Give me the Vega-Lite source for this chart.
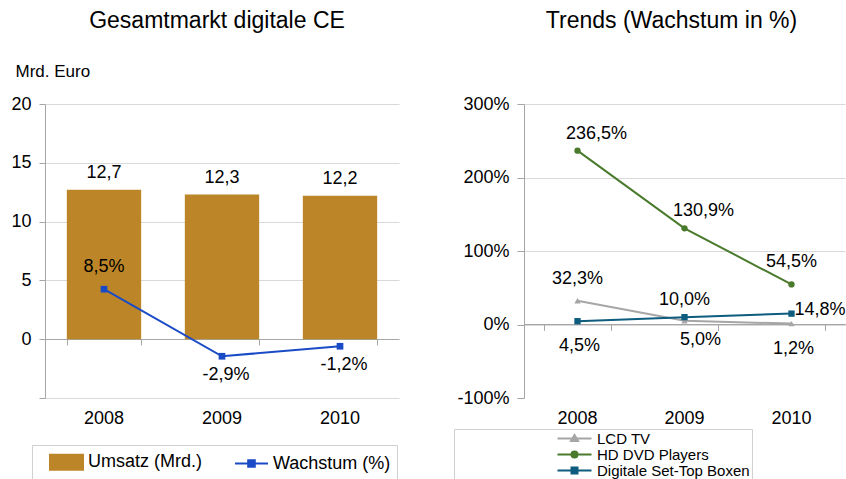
{
  "$schema": "https://vega.github.io/schema/vega-lite/v6.json",
  "padding": {"left": 10, "top": 10, "right": 0, "bottom": 0},
  "spacing": 125,
  "bounds": "flush",
  "config": {
    "font": "Liberation Sans",
    "view": {"stroke": null},
    "axis": {"labelColor": "#000000", "labelFont": "Liberation Sans", "domainColor": "#a6a6a6", "tickColor": "#a6a6a6", "gridColor": "#d9d9d9"},
    "text": {"font": "Liberation Sans", "fontSize": 18, "color": "#000000"},
    "legend": {"labelFont": "Liberation Sans", "labelColor": "#000000"}
  },
  "hconcat": [
    {
      "width": 354,
      "height": 294,
      "title": {"text": "Gesamtmarkt digitale CE", "frame": "group", "baseline": "alphabetic", "offset": 11, "fontSize": 23, "fontWeight": "normal", "font": "Liberation Sans", "anchor": "middle", "dx": -5, "color": "#000000"},
      "data": {"values": [
        {"year": "2008", "umsatz": 12.7, "wachstum": 8.5},
        {"year": "2009", "umsatz": 12.3, "wachstum": -2.9},
        {"year": "2010", "umsatz": 12.2, "wachstum": -1.2}
      ]},
      "transform": [
        {"calculate": "replace(format(datum.umsatz, '.1f'), '.', ',')", "as": "uLabel"},
        {"calculate": "(datum.wachstum < 0 ? '-' : '') + replace(format(abs(datum.wachstum), '.1f'), '.', ',') + '%'", "as": "wLabel"}
      ],
      "resolve": {"scale": {"y": "independent"}},
      "layer": [
        {
          "encoding": {
            "x": {"field": "year", "type": "nominal", "scale": {"paddingInner": 0.37, "paddingOuter": 0.185}, "axis": {"orient": "bottom", "title": null, "domain": false, "ticks": false, "labelAngle": 0, "labelFontSize": 18, "labelPadding": 11}},
            "y": {"field": "umsatz", "type": "quantitative", "scale": {"domain": [-5, 20], "nice": false},
              "axis": {"values": [-5, 0, 5, 10, 15, 20], "title": "Mrd. Euro", "titleAngle": 0, "titleX": -30, "titleY": -28, "titleAlign": "left", "titleBaseline": "alphabetic", "titleFontSize": 17, "titleFontWeight": "normal", "titleColor": "#000000", "titleFont": "Liberation Sans", "labelExpr": "datum.value < 0 ? '' : datum.label", "labelFontSize": 18, "labelPadding": 8, "tickSize": 6, "grid": true}}
          },
          "layer": [
            {"mark": {"type": "bar"}, "encoding": {"color": {"datum": "Umsatz (Mrd.)", "type": "nominal", "scale": {"domain": ["Umsatz (Mrd.)", "Wachstum (%)"], "range": ["#BC8628", "#1A4BC6"]},
              "legend": {"orient": "none", "legendX": -13, "legendY": 341, "direction": "horizontal", "title": null, "strokeColor": "#d0d0d0", "padding": 6, "symbolSize": 400, "labelFontSize": 18, "labelOffset": 28, "columnPadding": 21, "symbolStrokeWidth": 2,
                "encode": {"symbols": {"update": {
                  "shape": {"signal": "datum.value === 'Umsatz (Mrd.)' ? 'M0.1,-0.75H3.4V0.75H0.1Z' : 'M0.1,0H3.4M1.42,-0.33H2.08V0.33H1.42Z'"},
                  "fill": {"signal": "datum.value === 'Umsatz (Mrd.)' ? '#BC8628' : '#1A4BC6'"},
                  "stroke": {"signal": "datum.value === 'Umsatz (Mrd.)' ? '#BC8628' : '#1A4BC6'"},
                  "strokeWidth": {"value": 2},
                  "opacity": {"value": 1},
                  "fillOpacity": {"value": 1},
                  "strokeOpacity": {"value": 1}
                }}}}}}},
            {"mark": {"type": "text", "dy": -17, "baseline": "middle"}, "encoding": {"text": {"field": "uLabel"}}}
          ]
        },
        {
          "encoding": {
            "x": {"field": "year", "type": "nominal", "scale": {"paddingInner": 0.37, "paddingOuter": 0.185}, "axis": {"orient": "top", "offset": -235, "labels": false, "tickSize": -6, "tickBand": "extent", "title": null, "domain": true, "ticks": true}},
            "y": {"field": "wachstum", "type": "quantitative", "scale": {"domain": [-10, 40], "nice": false}, "axis": null}
          },
          "layer": [
            {"mark": {"type": "line", "strokeWidth": 2, "point": {"shape": "square", "size": 45, "filled": true, "opacity": 1}},
              "encoding": {"color": {"datum": "Wachstum (%)", "type": "nominal"}}},
            {"transform": [{"filter": "datum.wachstum > 0"}], "mark": {"type": "text", "dy": -22, "baseline": "middle"}, "encoding": {"text": {"field": "wLabel"}}},
            {"transform": [{"filter": "datum.wachstum < 0"}], "mark": {"type": "text", "dy": 19, "dx": 4, "baseline": "middle"}, "encoding": {"text": {"field": "wLabel"}}}
          ]
        }
      ]
    },
    {
      "width": 321,
      "height": 294,
      "title": {"text": "Trends (Wachstum in %)", "frame": "group", "baseline": "alphabetic", "offset": 44, "fontSize": 23, "fontWeight": "normal", "font": "Liberation Sans", "anchor": "middle", "dx": -13, "color": "#000000"},
      "data": {"values": [
        {"year": "2008", "series": "LCD TV", "value": 32.3},
        {"year": "2009", "series": "LCD TV", "value": 5.0},
        {"year": "2010", "series": "LCD TV", "value": 1.2},
        {"year": "2008", "series": "HD DVD Players", "value": 236.5},
        {"year": "2009", "series": "HD DVD Players", "value": 130.9},
        {"year": "2010", "series": "HD DVD Players", "value": 54.5},
        {"year": "2008", "series": "Digitale Set-Top Boxen", "value": 4.5},
        {"year": "2009", "series": "Digitale Set-Top Boxen", "value": 10.0},
        {"year": "2010", "series": "Digitale Set-Top Boxen", "value": 14.8}
      ]},
      "transform": [
        {"calculate": "replace(format(datum.value, '.1f'), '.', ',') + '%'", "as": "vLabel"}
      ],
      "encoding": {
        "x": {"field": "year", "type": "nominal", "scale": {"paddingInner": 0.37, "paddingOuter": 0.185}, "axis": null},
        "y": {"field": "value", "type": "quantitative", "scale": {"domain": [-100, 300], "nice": false},
          "axis": {"values": [-100, 0, 100, 200, 300], "title": null, "labelExpr": "datum.value + '%'", "labelFontSize": 18, "labelPadding": 8, "tickSize": 7, "grid": true,
            "gridColor": {"condition": {"test": "datum.value < 0", "value": "transparent"}, "value": "#d9d9d9"}}},
        "color": {"field": "series", "type": "nominal", "scale": {"domain": ["LCD TV", "HD DVD Players", "Digitale Set-Top Boxen"], "range": ["#A6A6A6", "#4A7A2C", "#0E5C7E"]},
          "legend": {"orient": "none", "legendX": -70, "legendY": 325, "direction": "vertical", "title": null, "strokeColor": "#d0d0d0", "padding": 2, "symbolSize": 100, "labelFontSize": 15, "labelOffset": 126, "rowPadding": -2, "symbolStrokeWidth": 2,
            "encode": {"symbols": {"update": {
              "shape": {"signal": "datum.value === 'LCD TV' ? 'M18.8,0H25.6M22.2,-0.7L22.9,0.5H21.5Z' : datum.value === 'HD DVD Players' ? 'M18.8,0H25.6M21.6,0A0.6,0.6 0 1 0 22.8,0A0.6,0.6 0 1 0 21.6,0Z' : 'M18.8,0H25.6M21.6,-0.6H22.8V0.6H21.6Z'"},
              "fill": {"signal": "datum.value === 'LCD TV' ? '#A6A6A6' : datum.value === 'HD DVD Players' ? '#4A7A2C' : '#0E5C7E'"},
              "stroke": {"signal": "datum.value === 'LCD TV' ? '#A6A6A6' : datum.value === 'HD DVD Players' ? '#4A7A2C' : '#0E5C7E'"},
              "strokeWidth": {"value": 2},
              "opacity": {"value": 1},
              "fillOpacity": {"value": 1},
              "strokeOpacity": {"value": 1}
            }}}}}
      },
      "layer": [
        {
          "mark": {"type": "line", "strokeWidth": 2},
          "encoding": {
            "x": {"field": "year", "type": "nominal", "scale": {"paddingInner": 0.37, "paddingOuter": 0.185}, "axis": {"orient": "bottom", "title": null, "domain": false, "ticks": false, "labelAngle": 0, "labelFontSize": 18, "labelPadding": 11}}
          }
        },
        {
          "transform": [{"filter": "datum.series === 'LCD TV'"}],
          "mark": {"type": "point", "filled": true, "size": 40, "opacity": 1, "shape": "triangle-up"},
          "encoding": {
            "x": {"field": "year", "type": "nominal", "scale": {"paddingInner": 0.37, "paddingOuter": 0.185}, "axis": {"orient": "top", "offset": -220, "labels": false, "tickSize": -6, "tickBand": "extent", "title": null, "domain": true, "ticks": true}}
          }
        },
        {
          "transform": [{"filter": "datum.series === 'HD DVD Players'"}],
          "mark": {"type": "point", "filled": true, "size": 40, "opacity": 1, "shape": "circle"},
          "encoding": {
            "x": {"field": "year", "type": "nominal", "scale": {"paddingInner": 0.37, "paddingOuter": 0.185}, "axis": {"orient": "top", "offset": -220, "labels": false, "tickSize": -6, "tickBand": "extent", "title": null, "domain": true, "ticks": true}}
          }
        },
        {
          "transform": [{"filter": "datum.series === 'Digitale Set-Top Boxen'"}],
          "mark": {"type": "point", "filled": true, "size": 40, "opacity": 1, "shape": "square"},
          "encoding": {
            "x": {"field": "year", "type": "nominal", "scale": {"paddingInner": 0.37, "paddingOuter": 0.185}, "axis": {"orient": "top", "offset": -220, "labels": false, "tickSize": -6, "tickBand": "extent", "title": null, "domain": true, "ticks": true}}
          }
        },
        {"transform": [{"filter": "datum.series === 'HD DVD Players' && datum.year !== '2010'"}], "mark": {"type": "text", "dx": 19, "dy": -17, "baseline": "middle", "color": "#000000"}, "encoding": {"text": {"field": "vLabel"}, "color": {"value": "#000000"}}},
        {"transform": [{"filter": "(datum.series === 'HD DVD Players' && datum.year === '2010') || (datum.series === 'LCD TV' && datum.year === '2008')"}], "mark": {"type": "text", "dy": -22, "baseline": "middle"}, "encoding": {"text": {"field": "vLabel"}, "color": {"value": "#000000"}}},
        {"transform": [{"filter": "datum.series === 'Digitale Set-Top Boxen' && datum.year === '2009'"}], "mark": {"type": "text", "dy": -17, "baseline": "middle"}, "encoding": {"text": {"field": "vLabel"}, "color": {"value": "#000000"}}},
        {"transform": [{"filter": "datum.series === 'Digitale Set-Top Boxen' && datum.year === '2010'"}], "mark": {"type": "text", "dx": 3, "dy": -4, "align": "left", "baseline": "middle"}, "encoding": {"text": {"field": "vLabel"}, "color": {"value": "#000000"}}},
        {"transform": [{"filter": "(datum.series === 'Digitale Set-Top Boxen' && datum.year === '2008') || (datum.series === 'LCD TV' && datum.year === '2010')"}], "mark": {"type": "text", "dx": 2, "dy": 25, "baseline": "middle"}, "encoding": {"text": {"field": "vLabel"}, "color": {"value": "#000000"}}},
        {"transform": [{"filter": "datum.series === 'LCD TV' && datum.year === '2009'"}], "mark": {"type": "text", "dx": 16, "dy": 19, "baseline": "middle"}, "encoding": {"text": {"field": "vLabel"}, "color": {"value": "#000000"}}}
      ]
    }
  ],
  "resolve": {"scale": {"color": "independent", "shape": "independent", "x": "independent", "y": "independent"}, "legend": {"color": "independent", "shape": "independent"}}
}
